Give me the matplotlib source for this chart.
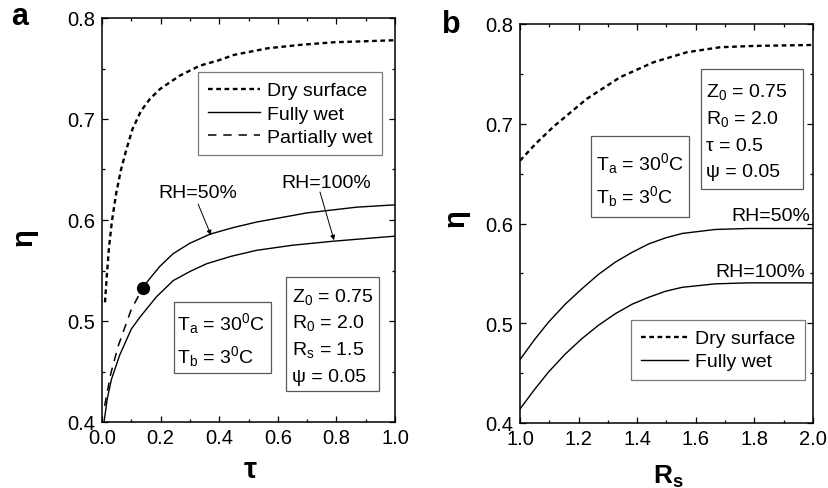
import matplotlib
matplotlib.use("Agg")
import matplotlib.pyplot as plt
from matplotlib.ticker import MultipleLocator, FormatStrFormatter
from matplotlib.patches import Rectangle

plt.rcParams['font.family'] = ['Liberation Sans', 'DejaVu Sans']
plt.rcParams['mathtext.fontset'] = 'custom'
plt.rcParams['mathtext.rm'] = 'Liberation Sans'
plt.rcParams['mathtext.it'] = 'Liberation Sans:italic'
plt.rcParams['mathtext.bf'] = 'Liberation Sans:bold'

# ---------------- Panel a data (eta vs tau) ----------------
tau_dry = [0.0102, 0.016, 0.0239, 0.0341, 0.048, 0.064, 0.082, 0.104, 0.133, 0.164,
           0.198, 0.266, 0.334, 0.397, 0.451, 0.565, 0.68, 0.793, 0.9, 1.0]
eta_dry = [0.5185, 0.5432, 0.5729, 0.5993, 0.6257, 0.6488, 0.6686, 0.690, 0.708, 0.720,
           0.7297, 0.743, 0.7528, 0.758, 0.7635, 0.770, 0.7735, 0.776, 0.777, 0.778]

tau_part = [0.009, 0.030, 0.055, 0.100, 0.140]
eta_part = [0.416, 0.448, 0.475, 0.5116, 0.533]

tau_rh50 = [0.140, 0.152, 0.197, 0.243, 0.300, 0.369, 0.448, 0.528, 0.699, 0.869, 1.0]
eta_rh50 = [0.533, 0.538, 0.554, 0.5667, 0.577, 0.586, 0.5925, 0.598, 0.607, 0.6127, 0.615]

tau_rh100 = [0.007, 0.018, 0.032, 0.060, 0.100, 0.130, 0.186, 0.243, 0.300, 0.357, 0.440,
             0.528, 0.650, 0.789, 1.0]
eta_rh100 = [0.400, 0.423, 0.442, 0.466, 0.492, 0.504, 0.524, 0.540, 0.549, 0.5567, 0.564,
             0.570, 0.575, 0.579, 0.584]

tau_point = [0.14]
eta_point = [0.533]

# ---------------- Panel b data (eta vs Rs) ----------------
rs_dry = [1.0, 1.057, 1.114, 1.228, 1.342, 1.456, 1.57, 1.683, 1.797, 2.0]
eta_dry_b = [0.663, 0.681, 0.697, 0.725, 0.7467, 0.7617, 0.7717, 0.7767, 0.778, 0.779]

rs_wet = [1.0, 1.048, 1.097, 1.154, 1.211, 1.268, 1.325, 1.382, 1.439, 1.496, 1.553,
          1.666, 1.78, 2.0]
eta_rh50_b = [0.4635, 0.483, 0.501, 0.519, 0.5345, 0.549, 0.5612, 0.571, 0.5795, 0.5855,
              0.590, 0.594, 0.595, 0.595]
eta_rh100_b = [0.414, 0.433, 0.451, 0.469, 0.4845, 0.498, 0.5095, 0.519, 0.526, 0.532,
               0.536, 0.5395, 0.5405, 0.5405]

W, H = 829, 489
fig = plt.figure(figsize=(W / 100, H / 100), dpi=100)


def ax_rect(l, t, r, b):
    return [l / W, 1 - b / H, (r - l) / W, (b - t) / H]


def fx(x):
    return x / W


def fy(y):
    return 1 - y / H


axa = fig.add_axes(ax_rect(102, 19, 395, 423))
axb = fig.add_axes(ax_rect(520, 25, 813, 424))

dry_kw = dict(color='black', lw=1.7, dashes=(2.0, 1.5))
wet_kw = dict(color='black', lw=1.0)
part_kw = dict(color='black', lw=1.1, dashes=(5.5, 4.5))

# Panel a
l1, = axa.plot(tau_dry, eta_dry, label='Dry surface', **dry_kw)
l2, = axa.plot(tau_rh50, eta_rh50, label='Fully wet', **wet_kw)
axa.plot(tau_rh100, eta_rh100, **wet_kw)
l3, = axa.plot(tau_part, eta_part, label='Partially wet', **part_kw)
axa.plot(tau_point, eta_point, 'o', color='black', ms=8.5)

# Panel b
m1, = axb.plot(rs_dry, eta_dry_b, label='Dry surface', **dry_kw)
m2, = axb.plot(rs_wet, eta_rh50_b, label='Fully wet', **wet_kw)
axb.plot(rs_wet, eta_rh100_b, **wet_kw)

TS = 14.5   # tick labels
FS = 14     # texts
for ax in (axa, axb):
    ax.set_ylim(0.4, 0.8)
    ax.yaxis.set_major_locator(MultipleLocator(0.1))
    ax.yaxis.set_minor_locator(MultipleLocator(0.05))
    ax.yaxis.set_major_formatter(FormatStrFormatter('%.1f'))
    ax.xaxis.set_major_formatter(FormatStrFormatter('%.1f'))
    ax.tick_params(which='both', direction='in', top=True, right=True,
                   width=0.9, labelsize=TS)
    ax.tick_params(which='major', length=4.0)
    ax.tick_params(which='minor', length=2.5)
    ax.tick_params(axis='x', which='major', pad=4)
    ax.tick_params(axis='y', which='major', pad=5)
    for s in ax.spines.values():
        s.set_linewidth(1.1)

axa.set_xlim(0.0, 1.0)
axa.xaxis.set_major_locator(MultipleLocator(0.2))
axa.xaxis.set_minor_locator(MultipleLocator(0.1))
axb.set_xlim(1.0, 2.0)
axb.xaxis.set_major_locator(MultipleLocator(0.2))
axb.xaxis.set_minor_locator(MultipleLocator(0.1))

# Axis labels
fig.text(fx(250), fy(470), 'τ', fontsize=21, fontweight='bold', ha='center', va='center')
fig.text(fx(24), fy(237), 'η', fontsize=21, fontweight='bold', ha='center', va='center', rotation=90)
fig.text(fx(668), fy(477), r'R$_\mathbf{s}$', fontsize=19, fontweight='bold', ha='center', va='center')
fig.text(fx(456), fy(218), 'η', fontsize=21, fontweight='bold', ha='center', va='center', rotation=90)

# Panel letters
fig.text(fx(20), fy(25), 'a', fontsize=22, fontweight='bold', ha='center', va='baseline')
fig.text(fx(451), fy(33), 'b', fontsize=22, fontweight='bold', ha='center', va='baseline')

# Legends
leg_kw = dict(frameon=True, fancybox=False, edgecolor='0.35', fontsize=FS,
              handletextpad=0.35, labelspacing=0.28,
              borderpad=0.5, borderaxespad=0.0)
lga = axa.legend(handles=[l1, l2, l3], loc='upper left',
                 bbox_to_anchor=(0.3276, 0.866), handlelength=2.7, **leg_kw)
lga.get_frame().set_linewidth(0.9)
lgb = axb.legend(handles=[m1, m2], loc='upper left',
                 bbox_to_anchor=(0.379, 0.258), handlelength=2.45, **leg_kw)
lgb.get_frame().set_linewidth(0.9)


# Parameter boxes (outline + lines of text), positioned in figure pixels
def param_box(l, t, r, b, x_text, baselines, lines):
    fig.patches.append(Rectangle((fx(l), fy(b)), (r - l) / W, (b - t) / H,
                                 transform=fig.transFigure, fill=True, fc='white',
                                 ec='0.35', lw=0.9, zorder=3))
    for yb, s in zip(baselines, lines):
        fig.text(fx(x_text), fy(yb), s, fontsize=FS, ha='left', va='baseline', zorder=4)


ta_txt = 'T$_\\mathregular{a}$ = 30$^\\mathregular{0}$C'
tb_txt = 'T$_\\mathregular{b}$ = 3$^\\mathregular{0}$C'
z0_txt = 'Z$_\\mathregular{0}$ = 0.75'
r0_txt = 'R$_\\mathregular{0}$ = 2.0'

param_box(174, 303, 271, 374, 177, [330, 363], [ta_txt, tb_txt])
param_box(286, 278, 379, 392, 292, [302, 328, 355, 382],
          [z0_txt, r0_txt, 'R$_\\mathregular{s}$ = 1.5', 'ψ = 0.05'])
param_box(591, 137, 689, 218, 596, [170, 203], [ta_txt, tb_txt])
param_box(701, 70, 803, 190, 706, [97, 124, 151, 177],
          [z0_txt, r0_txt, 'τ = 0.5', 'ψ = 0.05'])

# Panel a curve labels with arrows
arr = dict(arrowstyle='-|>', color='black', lw=0.7, mutation_scale=7,
           shrinkA=0, shrinkB=0)
axa.text(0.3276, 0.6277, 'RH=50%', fontsize=FS, ha='center', va='center')
axa.annotate('', xy=(0.372, 0.585), xytext=(0.328, 0.6158), arrowprops=arr)
axa.text(0.766, 0.6376, 'RH=100%', fontsize=FS, ha='center', va='center')
axa.annotate('', xy=(0.792, 0.580), xytext=(0.744, 0.6277), arrowprops=arr)

# Panel b curve labels
axb.text(1.99, 0.6078, 'RH=50%', fontsize=FS, ha='right', va='center')
axb.text(1.973, 0.5518, 'RH=100%', fontsize=FS, ha='right', va='center')

fig.savefig('out.png', dpi=100)
